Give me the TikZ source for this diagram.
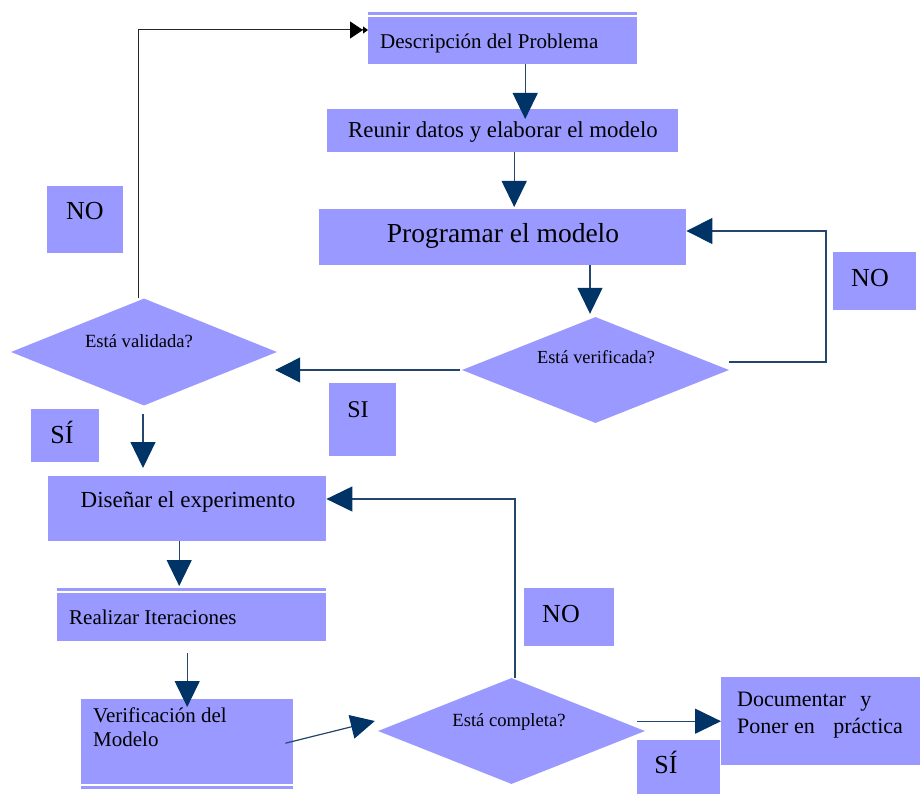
\documentclass[tikz,border=0pt]{standalone}
\usepackage{fontspec}
\setmainfont{Liberation Serif}
\usetikzlibrary{arrows.meta,shapes.geometric,calc}
\definecolor{boxfill}{HTML}{9999FF}
\definecolor{navy}{HTML}{003366}
\definecolor{lineblue}{HTML}{24466C}
\newcommand{\fsz}[1]{\fontsize{#1}{#1}\selectfont}
\begin{document}
\begin{tikzpicture}[x=1pt,y=-1pt,
  box/.style={fill=boxfill, draw=none, inner sep=0pt, anchor=north west},
  dia/.style={diamond, fill=boxfill, draw=none, inner sep=0pt},
  txt/.style={inner sep=0pt, anchor=base, text=black},
  conn/.style={draw=lineblue, line width=1.2pt, -{Triangle[length=26pt,width=25pt,color=navy]}},
  blackconn/.style={draw=black!85, line width=1pt, -{Triangle[length=13pt,width=17pt,color=black] Triangle[length=5pt,width=7pt,color=black]}},
]
\useasboundingbox (0,0) rectangle (920,794);
% main boxes
\node[box, minimum width=269pt, minimum height=47pt] (desc) at (368,17) {};
\node[box, minimum width=351pt, minimum height=43pt] (reunir) at (327,109) {};
\node[box, minimum width=367pt, minimum height=56pt] (prog) at (319,209) {};
\node[box, minimum width=278pt, minimum height=65pt] (dis) at (48,476) {};
\node[box, minimum width=269pt, minimum height=48pt] (real) at (57,593) {};
\node[box, minimum width=212pt, minimum height=85pt] (verif) at (81,699) {};
\node[box, minimum width=199pt, minimum height=88pt] (doc) at (721,677) {};
% label boxes
\node[box, minimum width=76pt, minimum height=67pt] (noL) at (47,186) {};
\node[box, minimum width=83pt, minimum height=58pt] (noR) at (833,252) {};
\node[box, minimum width=67pt, minimum height=73pt] (si) at (329,383) {};
\node[box, minimum width=68pt, minimum height=53pt] (siL) at (31,409) {};
\node[box, minimum width=90pt, minimum height=58pt] (noM) at (524,588) {};
\node[box, minimum width=83pt, minimum height=54pt] (siB) at (637,740) {};
% strips
\fill[boxfill] ($(desc.north west)+(0,-5)$) rectangle ($(desc.north east)+(0,-2)$);
\fill[boxfill] ($(real.north west)+(0,-5)$) rectangle ($(real.north east)+(0,-2)$);
\fill[boxfill] ($(verif.south west)+(0,2)$) rectangle ($(verif.south east)+(0,5)$);
% diamonds
\node[dia, minimum width=267pt, minimum height=106pt] (verd) at (595.5,370) {};
\node[dia, minimum width=266pt, minimum height=107pt] (vald) at (144,352) {};
\node[dia, minimum width=267pt, minimum height=106pt] (comp) at (511.5,731) {};
% connectors
\draw[conn] ($(desc.south)+(22.5,0)$) -- ($(reunir.north)+(22.5,10)$);
\draw[conn] ($(reunir.south)+(11.5,0)$) -- ($(prog.north)+(11.5,-2)$);
\draw[conn] ($(prog.south -| verd.north)+(-5.5,0)$) -- ($(verd.north)+(-5.5,-3)$);
\coordinate (c1) at (826,362);
\coordinate (c2) at (826,231);
\draw[conn, -{Triangle[length=26pt,width=26pt,color=navy]}] ($(verd.east)+(0,-8)$) -- (c1) -- (c2) -- (prog.east |- c2);
\draw[conn, -{Triangle[length=25pt,width=25pt,color=navy]}] ($(verd.west)+(-2,0)$) -- ($(vald.east |- verd.west)+(-2,0)$);
\coordinate (c3) at (138,30);
\draw[blackconn] ($(vald.north)+(-6,0)$) -- (c3) -- (desc.west |- c3);
\draw[conn] ($(vald.south)+(-1,8)$) -- ($(dis.north -| vald.south)+(-1,-8)$);
\coordinate (c4) at (515,499);
\draw[conn] ($(comp.north)+(3.5,0)$) -- (c4) -- (dis.east |- c4);
\draw[conn] ($(dis.south)+(-8,0)$) -- ($(dis.south |- real.north)+(-8,-7)$);
\draw[conn] ($(real.south)+(-4.5,12)$) -- ($(real.south |- verif.north)+(-4.5,8)$);
\draw[conn, -{Triangle[length=24pt,width=24pt,color=navy]}] ($(verif.east)+(-8,1.5)$) -- ($(comp.west)+(-3,-10)$);
\draw[conn] ($(comp.east |- doc.west)+(-8,0)$) -- (doc.west);
% texts
\node[txt, anchor=base west, font=\fsz{21}] (descT) at (380,49) {Descripción del Problema};
\node[txt, font=\fsz{22.8}] (reunirT) at (503,138) {Reunir datos y elaborar el modelo};
\node[txt, font=\fsz{27.5}] (progT) at (503,243) {Programar el modelo};
\node[txt, font=\fsz{18.4}] (verdT) at (596,363) {Está verificada?};
\node[txt, font=\fsz{18.6}] (valdT) at (139,347) {Está validada?};
\node[txt, font=\fsz{18.6}] (compT) at (509,726) {Está completa?};
\node[txt, font=\fsz{23}] (disT) at (188,507) {Diseñar el experimento};
\node[txt, anchor=base west, font=\fsz{21}] (realT) at (69,624) {Realizar Iteraciones};
\node[txt, anchor=base west, font=\fsz{21}] (verifT1) at (93,722) {Verificación del};
\node[txt, anchor=base west, font=\fsz{21}] (verifT2) at (93,746) {Modelo};
\node[txt, anchor=base west, font=\fsz{22}] (docT1) at (737,706) {Documentar\hspace{9pt} y};
\node[txt, anchor=base west, font=\fsz{22}] (docT2) at (737,733) {Poner en\hspace{13pt} práctica};
\node[txt, font=\fsz{26}] (noLT) at (85,220) {NO};
\node[txt, font=\fsz{26}] (noRT) at (870,286) {NO};
\node[txt, font=\fsz{26}] (noMT) at (561,622) {NO};
\node[txt, font=\fsz{24}] (siT) at (358,417) {SI};
\node[txt, font=\fsz{26}] (siLT) at (62,443) {SÍ};
\node[txt, font=\fsz{26}] (siBT) at (666,773) {SÍ};
\end{tikzpicture}
\end{document}
